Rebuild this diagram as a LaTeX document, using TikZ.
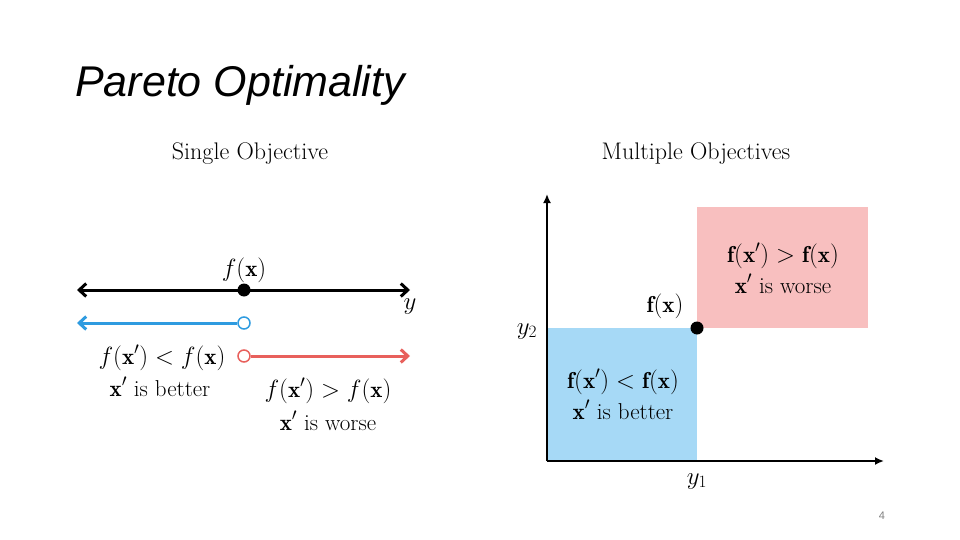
\documentclass[tikz,border=0pt]{standalone}
\usepackage{fontspec}
\usepackage{amsmath}
\newfontfamily\titlefont{Liberation Sans}
\usetikzlibrary{arrows.meta}
\definecolor{lineblue}{HTML}{2E9BE0}
\definecolor{linered}{HTML}{E8605C}
\definecolor{fillblue}{HTML}{A6D9F6}
\definecolor{fillred}{HTML}{F8BFBF}
\tikzset{
  lbl/.style={inner sep=0pt, font=\fontsize{23}{26}\selectfont, align=center},
  numline/.style={line width=3pt, {Straight Barb[length=7pt,width=13pt,line width=3pt]}-{Straight Barb[length=7pt,width=13pt,line width=3pt]}},
  oneline/.style={line width=3pt, -{Straight Barb[length=7pt,width=13pt,line width=3pt]}},
  axis/.style={line width=2pt, -{Latex[length=9pt,width=8pt]}},
  opencirc/.style={circle, draw, fill=white, line width=1.5pt, minimum size=12pt, inner sep=0pt},
  dot/.style={circle, fill=black, minimum size=13pt, inner sep=0pt}
}
\begin{document}
\begin{tikzpicture}[x=1pt,y=-1pt]
\useasboundingbox (0,0) rectangle (960,540);
% title
\node[anchor=base west, inner sep=0pt, font=\titlefont\itshape\fontsize{43}{46}\selectfont] (title) at (75,97) {Pareto Optimality};
\node[anchor=base, inner sep=0pt, font=\fontsize{24}{27}\selectfont] (single) at (250,160) {Single Objective};
\node[anchor=base, inner sep=0pt, font=\fontsize{24}{27}\selectfont] (multi) at (696,160) {Multiple Objectives};
% left: single objective
\coordinate (bl) at (77,290);
\coordinate (br) at (410,290);
\node[dot] (fx) at (244,290) {};
\draw[numline] (bl) -- (br);
\node[lbl, anchor=base] (fxl) at (244,276) {$f(\mathbf{x})$};
\node[lbl, anchor=base] (yl) at (410,309) {$y$};
\coordinate (bluel) at (77,323);
\node[opencirc, draw=lineblue] (bc) at (244,323) {};
\draw[oneline, lineblue] (bc) -- (bluel);
\coordinate (redr) at (410,356);
\node[opencirc, draw=linered] (rc) at (244,356) {};
\draw[oneline, linered] (rc) -- (redr);
\node[lbl, anchor=base] (better1) at (162,364) {$f(\mathbf{x}') < f(\mathbf{x})$};
\node[lbl, anchor=base] (better2) at (160,396) {$\mathbf{x}'$ is better};
\node[lbl, anchor=base] (worse1) at (328,397) {$f(\mathbf{x}') > f(\mathbf{x})$};
\node[lbl, anchor=base] (worse2) at (328,430) {$\mathbf{x}'$ is worse};
% right: multiple objectives
\fill[fillblue] (547,328) rectangle (697,461);
\fill[fillred] (697,207) rectangle (868,328);
\coordinate (origin) at (547,461);
\coordinate (ytop) at (547,194);
\coordinate (xright) at (884,461);
\draw[axis] (origin) -- (ytop);
\draw[axis] (origin) -- (xright);
\node[dot] (fxm) at (697,328) {};
\node[lbl, anchor=base] (fxml) at (665,312) {$\mathbf{f}(\mathbf{x})$};
\node[lbl, anchor=base] (y2) at (527,334) {$y_2$};
\node[lbl, anchor=base] (y1) at (697,484) {$y_1$};
\node[lbl, anchor=base] (mb1) at (623,388) {$\mathbf{f}(\mathbf{x}') < \mathbf{f}(\mathbf{x})$};
\node[lbl, anchor=base] (mb2) at (623,419) {$\mathbf{x}'$ is better};
\node[lbl, anchor=base] (mw1) at (783,262) {$\mathbf{f}(\mathbf{x}') > \mathbf{f}(\mathbf{x})$};
\node[lbl, anchor=base] (mw2) at (783,293) {$\mathbf{x}'$ is worse};
% page number
\node[anchor=base, inner sep=0pt, text=gray, font=\titlefont\fontsize{11}{12}\selectfont] (page) at (882,519) {4};
\end{tikzpicture}
\end{document}
